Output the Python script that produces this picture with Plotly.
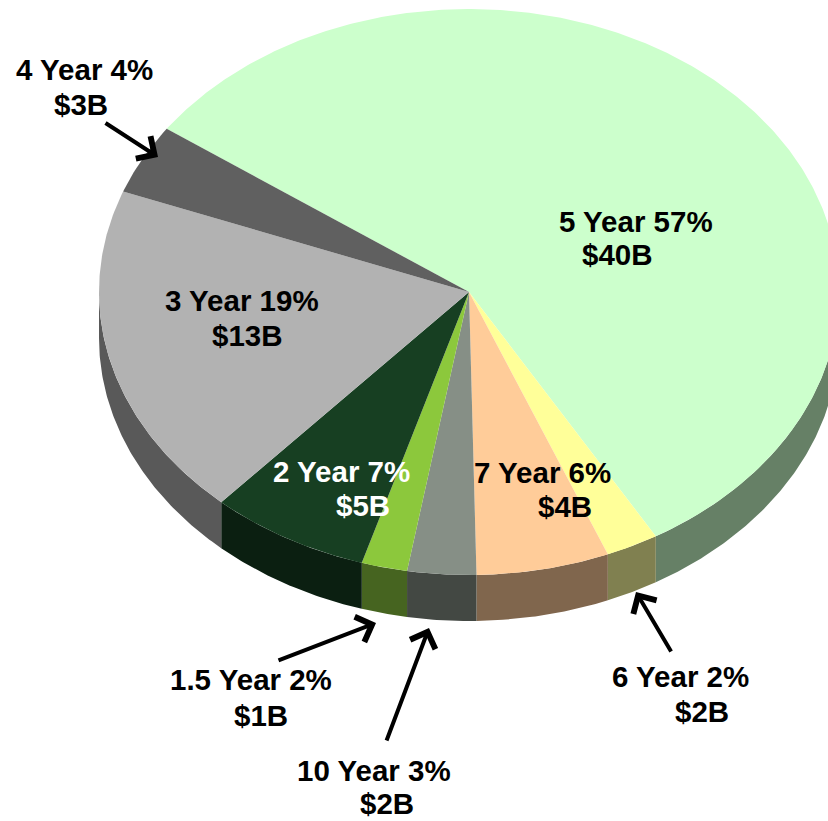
import numpy as np
import plotly.graph_objects as go

# Data, clockwise from the 4 Year / 5 Year boundary
categories = ["5 Year", "6 Year", "7 Year", "10 Year", "1.5 Year", "2 Year", "3 Year", "4 Year"]
shares = [56.8, 2.3, 5.8, 3.0, 2.0, 7.0, 19.1, 4.0]
top_colors = ["#CCFFCC", "#FFFF99", "#FFCC99", "#868F86", "#8CC83C", "#173F22", "#B2B2B2", "#606060"]
wall_colors = ["#668066", "#808050", "#80664D", "#434843", "#466420", "#0B1F11", "#595959", "#303030"]

# Label text, one line each
line_text = ["5 Year 57%", "$40B", "3 Year 19%", "$13B", "2 Year 7%", "$5B", "7 Year 6%", "$4B",
             "4 Year 4%", "$3B", "1.5 Year 2%", "$1B", "10 Year 3%", "$2B", "6 Year 2%", "$2B"]
line_x = [635.5, 617, 241.5, 247.5, 341, 363, 542.5, 564.5, 84, 81, 251, 261, 374, 387, 680, 701.5]
line_y = [221, 254, 300, 335, 471, 505, 472, 506, 69, 104, 679, 715, 770, 803, 676, 711]
line_color = ["black"] * 4 + ["white"] * 2 + ["black"] * 10

# Leader arrows: tail x, tail y, tip x, tip y
arrow_tail_x = [104, 277, 386, 672]
arrow_tail_y = [122, 661, 742, 653]
arrow_tip_x = [158, 376, 429, 636]
arrow_tip_y = [157, 623, 628, 592]

# Pie geometry
CX, CY, RX, RY, DEPTH, START = 469, 292, 370, 283, 46, 305.2


def rim(a0, a1):
    t = np.radians(np.linspace(a0, a1, max(2, int(abs(a1 - a0) * 2) + 1)))
    return CX + RX * np.sin(t), CY - RY * np.cos(t)


fig = go.Figure()
edges = START + np.concatenate([[0], np.cumsum(shares)]) * 3.6

# Side walls: only the part of each slice on the front half (90..270 deg)
for i, name in enumerate(categories):
    a0, a1 = edges[i], edges[i + 1]
    for shift in (0, -360, 360):
        lo, hi = max(a0 + shift, 90), min(a1 + shift, 270)
        if lo < hi:
            x, y = rim(lo, hi)
            fig.add_trace(go.Scatter(
                x=np.concatenate([x, x[::-1]]),
                y=np.concatenate([y, (y + DEPTH)[::-1]]),
                mode="lines", fill="toself", fillcolor=wall_colors[i],
                line=dict(width=0, color=wall_colors[i]), hoverinfo="skip", showlegend=False))

# Top faces
for i, name in enumerate(categories):
    x, y = rim(edges[i], edges[i + 1])
    fig.add_trace(go.Scatter(
        x=np.concatenate([[CX], x, [CX]]), y=np.concatenate([[CY], y, [CY]]),
        mode="lines", fill="toself", fillcolor=top_colors[i],
        line=dict(width=0, color=top_colors[i]), name=name, hoverinfo="name", showlegend=False))

for t, x, y, c in zip(line_text, line_x, line_y, line_color):
    fig.add_annotation(x=x, y=y, text=f"<b>{t}</b>", showarrow=False, xanchor="center", yanchor="middle",
                       font=dict(family="Liberation Sans, Arial, sans-serif", size=29.5, color=c))

for tx, ty, hx, hy in zip(arrow_tail_x, arrow_tail_y, arrow_tip_x, arrow_tip_y):
    fig.add_annotation(x=hx, y=hy, ax=tx, ay=ty, xref="x", yref="y", axref="x", ayref="y", text="",
                       showarrow=True, arrowhead=4, arrowsize=1.3, arrowwidth=4, arrowcolor="black",
                       standoff=0, startstandoff=0)

fig.update_layout(
    width=828, height=821, margin=dict(l=0, r=0, t=0, b=0),
    paper_bgcolor="white", plot_bgcolor="white", showlegend=False,
    xaxis=dict(range=[0, 828], visible=False, fixedrange=True),
    yaxis=dict(range=[821, 0], visible=False, fixedrange=True),
)
fig.write_html("out.html", config={"displayModeBar": False},
               post_script="document.body.style.margin='0';document.body.style.overflow='hidden';")
